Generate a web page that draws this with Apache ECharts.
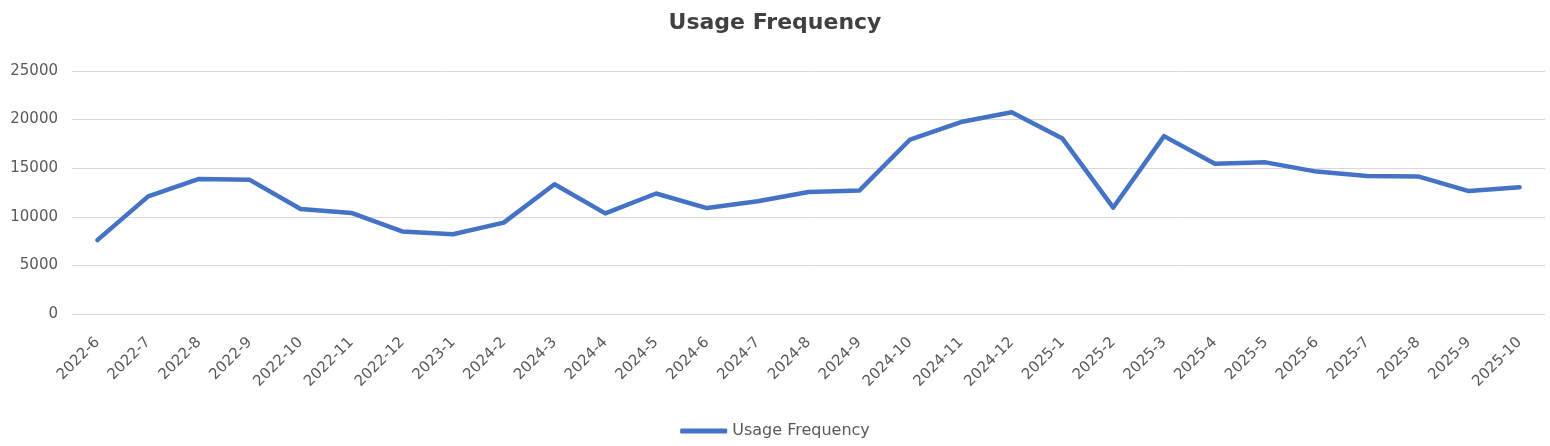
<!DOCTYPE html>
<html>
<head>
<meta charset="utf-8">
<title>Usage Frequency</title>
<script src="https://cdn.jsdelivr.net/npm/echarts@6/dist/echarts.min.js"></script>
<style>
  html, body { margin: 0; padding: 0; background: #fff; }
  #chart { width: 1550px; height: 446px; }
</style>
</head>
<body>
<div id="chart"></div>
<script>
var months = [
  '2022-6', '2022-7', '2022-8', '2022-9', '2022-10', '2022-11', '2022-12', '2023-1',
  '2024-2', '2024-3', '2024-4', '2024-5', '2024-6', '2024-7', '2024-8', '2024-9',
  '2024-10', '2024-11', '2024-12', '2025-1', '2025-2', '2025-3', '2025-4', '2025-5',
  '2025-6', '2025-7', '2025-8', '2025-9', '2025-10'
];
var usage = [
  7600, 12100, 13900, 13800, 10800, 10400, 8500, 8200,
  9400, 13350, 10350, 12400, 10900, 11600, 12550, 12700,
  17950, 19750, 20750, 18050, 10950, 18300, 15450, 15600,
  14650, 14200, 14150, 12650, 13050
];
var yTicks = { min: 0, max: 25000, interval: 5000 };

var myChart = echarts.init(document.getElementById('chart'));
myChart.setOption({
  textStyle: { fontFamily: 'DejaVu Sans' },
  title: {
    text: 'Usage Frequency',
    left: 'center',
    top: 7,
    textStyle: { fontSize: 22, fontWeight: 'bold', color: '#404040', fontFamily: 'DejaVu Sans' }
  },
  legend: {
    bottom: 2,
    left: 'center',
    icon: 'roundRect',
    itemWidth: 47,
    itemHeight: 5,
    itemGap: 8,
    textStyle: { fontSize: 16, color: '#595959' },
    data: ['Usage Frequency']
  },
  grid: { left: 72, right: 5, top: 71, bottom: 132 },
  xAxis: {
    type: 'category',
    data: months,
    boundaryGap: true,
    axisLine: { show: false },
    axisTick: { show: false },
    axisLabel: {
      rotate: 45,
      interval: 0,
      fontSize: 15,
      color: '#595959',
      margin: 26
    }
  },
  yAxis: {
    type: 'value',
    min: yTicks.min,
    max: yTicks.max,
    interval: yTicks.interval,
    axisLine: { show: false },
    axisTick: { show: false },
    axisLabel: {
      fontSize: 15,
      color: '#595959',
      margin: 14,
      formatter: function (v) { return String(v); }
    },
    splitLine: { lineStyle: { color: '#d9d9d9', width: 1 } }
  },
  series: [
    {
      name: 'Usage Frequency',
      type: 'line',
      data: usage,
      symbol: 'none',
      lineStyle: { color: '#4472c4', width: 4.5, cap: 'round', join: 'round' },
      itemStyle: { color: '#4472c4' }
    }
  ]
});
</script>
</body>
</html>
